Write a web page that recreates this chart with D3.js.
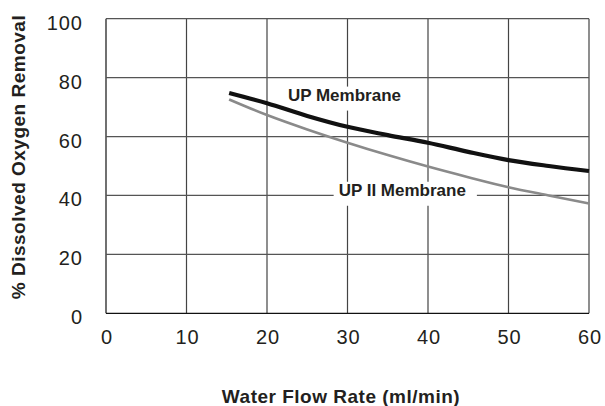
<!DOCTYPE html>
<html>
<head>
<meta charset="utf-8">
<script src="https://cdn.jsdelivr.net/npm/d3@7"></script>
<style>
  body { margin: 0; background: #fff; }
  text { font-family: "Liberation Sans", Arial, Helvetica, sans-serif; fill: #231f20; }
  .tick-label { font-size: 20px; letter-spacing: 1px; }
  .axis-title { font-size: 19px; font-weight: bold; letter-spacing: 0.5px; }
  .series-label { font-size: 17px; font-weight: bold; }
</style>
</head>
<body>
<svg width="605" height="406"></svg>
<script>
// flow rate in ml/min
var flowUP = [15.3, 20, 25, 30, 35, 40, 45, 50, 55, 60];
var removalUP = [74.8, 71.3, 67, 63.3, 60.5, 57.9, 54.8, 52, 50, 48.3];

var flowUP2 = [15.3, 20, 25, 30, 35, 40, 45, 50, 55, 60];
var removalUP2 = [72.6, 67.3, 62.4, 57.9, 53.7, 49.8, 46.2, 42.8, 40, 37.3];

var xTicks = [0, 10, 20, 30, 40, 50, 60];
var yTicks = [0, 20, 40, 60, 80, 100];

// text labels for the two curves
var seriesLabels = [
	{"name": "UP Membrane", "x": 22.6, "y": 72.2},
	{"name": "UP II Membrane", "x": 28.9, "y": 39.9}
];

var svg = d3.select("svg");

var x = d3.scaleLinear().domain([0, 60]).range([106, 589]);
var y = d3.scaleLinear().domain([0, 100]).range([313.3, 18.7]);

// grid
svg.selectAll("line.vgrid")
	.data(xTicks)
	.enter()
	.append("line")
	.attr("x1", function(d) { return x(d); })
	.attr("x2", function(d) { return x(d); })
	.attr("y1", y(100))
	.attr("y2", y(0))
	.attr("stroke", function(d) { return d === 0 ? "#111" : "#444"; })
	.attr("stroke-width", 1.2);

svg.selectAll("line.hgrid")
	.data(yTicks)
	.enter()
	.append("line")
	.attr("x1", x(0))
	.attr("x2", x(60))
	.attr("y1", function(d) { return y(d); })
	.attr("y2", function(d) { return y(d); })
	.attr("stroke", function(d) { return d === 0 ? "#111" : "#555"; })
	.attr("stroke-width", 1.2);

// tick labels
svg.selectAll("text.xlab")
	.data(xTicks)
	.enter()
	.append("text")
	.classed("tick-label", true)
	.attr("text-anchor", "middle")
	.attr("x", function(d) { return x(d) + 1; })
	.attr("y", 344)
	.text(function(d) { return d; });

svg.selectAll("text.ylab")
	.data(yTicks)
	.enter()
	.append("text")
	.classed("tick-label", true)
	.attr("text-anchor", "end")
	.attr("x", 83)
	.attr("y", function(d) { return y(d) + 11; })
	.text(function(d) { return d; });

// axis titles
svg.append("text")
	.classed("axis-title", true)
	.attr("text-anchor", "middle")
	.attr("x", 341)
	.attr("y", 403)
	.text("Water Flow Rate (ml/min)");

svg.append("text")
	.classed("axis-title", true)
	.attr("text-anchor", "middle")
	.attr("transform", "translate(25,157) rotate(-90)")
	.text("% Dissolved Oxygen Removal");

// series labels with white boxes behind them
var labelG = svg.selectAll("g.slabel")
	.data(seriesLabels)
	.enter()
	.append("g");

labelG.append("rect").attr("fill", "#fff");
labelG.append("text")
	.classed("series-label", true)
	.attr("x", function(d) { return x(d.x); })
	.attr("y", function(d) { return y(d.y); })
	.text(function(d) { return d.name; });

labelG.each(function() {
	var g = d3.select(this);
	var b = g.select("text").node().getBBox();
	g.select("rect")
		.attr("x", b.x - 5)
		.attr("y", b.y + 1)
		.attr("width", b.width + 16)
		.attr("height", b.height + 5);
});

// curves
var line = d3.line()
	.curve(d3.curveMonotoneX)
	.x(function(d) { return x(d[0]); })
	.y(function(d) { return y(d[1]); });

svg.append("path")
	.datum(d3.zip(flowUP2, removalUP2))
	.attr("fill", "none")
	.attr("stroke", "#8a8a8a")
	.attr("stroke-width", 2.6)
	.attr("d", line);

svg.append("path")
	.datum(d3.zip(flowUP, removalUP))
	.attr("fill", "none")
	.attr("stroke", "#111")
	.attr("stroke-width", 4.2)
	.attr("d", line);
</script>
</body>
</html>
